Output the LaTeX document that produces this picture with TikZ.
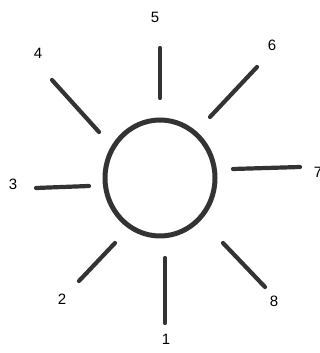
\documentclass[tikz,border=0pt]{standalone}
\usepackage{fontspec}
\setmainfont{Liberation Sans}
\begin{document}
\begin{tikzpicture}[x=1pt, y=1pt, line join=round, line cap=round, font=\fontsize{15}{17}\selectfont]
	\useasboundingbox (0,0) rectangle (320,353);
	\tikzset{ray/.style={line width=4.2pt, draw=black!80}}
	\draw[line width=5pt, draw=black!80] (160,175) ellipse (55 and 58);
	% rays
	\draw[ray] (160,305) -- (160,255);
	\draw[ray] (210,236) -- (257,286);
	\draw[ray] (233,184) -- (300,186);
	\draw[ray] (223,110) -- (265,66);
	\draw[ray] (165,95) -- (165,30);
	\draw[ray] (115,110) -- (79,72);
	\draw[ray] (36,165) -- (89,167);
	\draw[ray] (52,273) -- (99,221);
	% labels
	\node (n1) at (166,14) {1};
	\node (n2) at (62,54) {2};
	\node (n3) at (13,169) {3};
	\node (n4) at (38,300) {4};
	\node (n5) at (155,336) {5};
	\node (n6) at (272,308) {6};
	\node (n7) at (318,181) {7};
	\node (n8) at (274,52) {8};
\end{tikzpicture}
\end{document}
